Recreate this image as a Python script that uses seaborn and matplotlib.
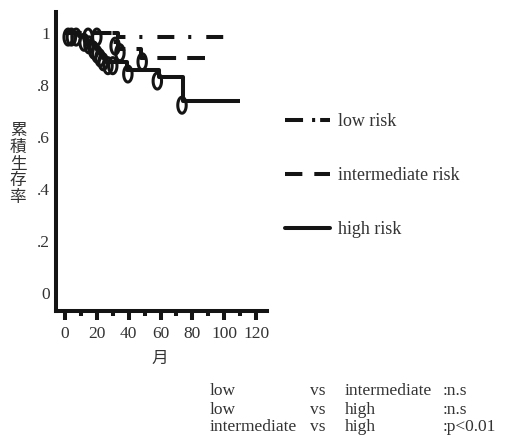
import numpy as np
import pandas as pd
import matplotlib
matplotlib.use("Agg")
import matplotlib.pyplot as plt
from matplotlib.path import Path
from matplotlib.lines import Line2D
import seaborn as sns

# ---------------- data ----------------
groups = ["low risk", "intermediate risk", "high risk"]

low_time = [0, 33, 100]
low_surv = [1.0, 0.983, 0.983]
low_cens_time = [2, 14.5, 20]
low_cens_surv = [1.0, 1.0, 1.0]

mid_time = [0, 30, 33, 48, 88]
mid_surv = [1.0, 0.965, 0.94, 0.905, 0.905]
mid_cens_time = [4, 31.5, 34.5, 48.5]
mid_cens_surv = [1.0, 0.965, 0.94, 0.905]

high_time = [0, 9, 12, 14, 16, 18, 20, 22, 24, 26, 39, 59, 74, 110]
high_surv = [1.0, 0.99, 0.98, 0.97, 0.96, 0.95, 0.935, 0.92, 0.905, 0.89,
             0.858, 0.831, 0.738, 0.738]
high_cens_time = [7, 12, 15, 18, 20, 22, 24, 27, 30, 39.5, 58, 73.5]
high_cens_surv = [1.0, 0.98, 0.97, 0.95, 0.935, 0.92, 0.905, 0.89, 0.89,
                  0.858, 0.831, 0.738]

x_ticks = [0, 20, 40, 60, 80, 100, 120]
x_minor = [10, 30, 50, 70, 90, 110]
y_ticks = [0, 0.2, 0.4, 0.6, 0.8, 1.0]
y_ticklabels = ["0", ".2", ".4", ".6", ".8", "1"]

compare_rows = [
    ("low", "vs", "intermediate", ":n.s"),
    ("low", "vs", "high", ":n.s"),
    ("intermediate", "vs", "high", ":p<0.01"),
]

# ---------------- style ----------------
sns.set_style("white")
plt.rcParams["font.family"] = ["Liberation Serif", "DejaVu Serif"]
plt.rcParams["lines.scale_dashes"] = False
TXT = "#333333"
INK = "#141414"

W, H = 515, 438
fig = plt.figure(figsize=(W / 100, H / 100), dpi=100)
ax = fig.add_axes([56 / W, 1 - 311 / H, (267 - 56) / W, (311 - 12) / H])

line_w = 2.9
styles = {
    "low risk": (1.0, (12.2, 10.0, 2.2, 10.8)),
    "intermediate risk": (1.5, (13.5, 8.0)),
    "high risk": "solid",
}
curves = {
    "low risk": (low_time, low_surv),
    "intermediate risk": (mid_time, mid_surv),
    "high risk": (high_time, high_surv),
}
for g in groups:
    t, s = curves[g]
    df = pd.DataFrame({"month": t, "surv": s})
    sns.lineplot(data=df, x="month", y="surv", ax=ax, color=INK,
                 linewidth=line_w, linestyle=styles[g], drawstyle="steps-post",
                 estimator=None, solid_capstyle="butt", dash_capstyle="butt")

# censor marker: hanging open oval
th = np.linspace(0, 2 * np.pi, 60)
verts = np.column_stack([4.2 * np.cos(th), -4.0 + 8.0 * np.sin(th)])
oval = Path(verts, closed=True)

cens = pd.DataFrame({
    "month": low_cens_time + mid_cens_time + high_cens_time,
    "surv": low_cens_surv + mid_cens_surv + high_cens_surv,
})
sns.scatterplot(data=cens, x="month", y="surv", ax=ax, marker=oval, s=300,
                color=INK, facecolor="none", edgecolor=INK, linewidth=2.2,
                zorder=3)

ax.set_xlim(-5.65, 126.9)
ax.set_ylim(-0.069, 1.081)
ax.set_xticks(x_ticks)
ax.set_xticks(x_minor, minor=True)
ax.set_yticks(y_ticks)
ax.set_yticklabels(y_ticklabels)
ax.set_xlabel("")
ax.set_ylabel("")
for sp in ["top", "right"]:
    ax.spines[sp].set_visible(False)
for sp in ["left", "bottom"]:
    ax.spines[sp].set_linewidth(2.9)
    ax.spines[sp].set_color(INK)
ax.tick_params(axis="x", which="major", direction="out", length=6.5, width=2.9,
               color=INK, labelsize=12.5, labelcolor=TXT, pad=4, bottom=True)
ax.tick_params(axis="x", which="minor", direction="out", length=3.3, width=2.9,
               color=INK, bottom=True)
ax.tick_params(axis="y", direction="out", length=1.5, width=1.2, color=INK,
               labelsize=12.5, labelcolor=TXT, pad=3, left=True)

# legend
handles = [
    Line2D([], [], color=INK, lw=line_w, linestyle=(0, (13, 6.5, 2.2, 3.6))),
    Line2D([], [], color=INK, lw=line_w, linestyle=(0, (12.5, 8.6))),
    Line2D([], [], color=INK, lw=line_w, linestyle="solid"),
]
leg = fig.legend(handles, groups, loc="upper left",
                 bbox_to_anchor=(285 / W, 1 - 113 / H), frameon=False,
                 fontsize=13, handlelength=2.5, handletextpad=0.45,
                 labelspacing=2.05, borderpad=0, borderaxespad=0)
for t in leg.get_texts():
    t.set_color(TXT)

# axis titles (Japanese)
cjk = ["Noto Sans CJK JP", "DejaVu Sans"]
fig.text(18 / W, 1 - 164 / H, "累\n積\n生\n存\n率", ha="center", va="center",
         family=cjk, fontsize=12, color=TXT, linespacing=0.97)
fig.text(160 / W, 1 - 358 / H, "月", ha="center", va="center", family=cjk,
         fontsize=12, color=TXT)

# comparison table
col_x = [210, 310, 345, 443]
row_y = [395, 414, 431]
for r, row in enumerate(compare_rows):
    for c, txt in enumerate(row):
        fig.text(col_x[c] / W, 1 - row_y[r] / H, txt, ha="left", va="baseline",
                 fontsize=12.5, color=TXT)

fig.savefig("out.png", dpi=100)
